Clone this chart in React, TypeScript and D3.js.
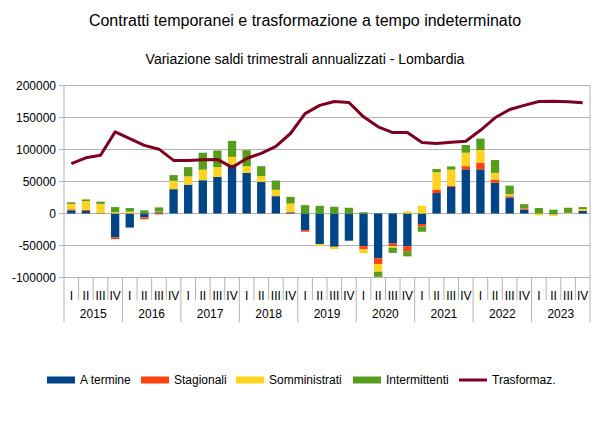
import React from 'react';
import * as d3 from 'd3';

const years = ['2015', '2016', '2017', '2018', '2019', '2020', '2021', '2022', '2023'];
const quarterNames = ['I', 'II', 'III', 'IV'];

const aTermine = [5000, 4000, 500, -37500, -22000, -6000, 2000, 38000, 45000, 52000, 57000, 76500, 63500, 49500, 27000, 1500, -26000, -48000, -52000, -42500, -51000, -70000, -47000, -51000, -16500, 32000, 41500, 69000, 69000, 48000, 25000, 6000, 500, -1500, 0, 4000];
const stagionali = [1500, 2000, 0, -2500, 0, -3000, -1500, 0, 0, 0, 0, 0, 0, 0, 1000, 1000, -2500, 0, 0, 0, -5000, -9000, -4000, -8000, -4000, 5500, 2000, 5000, 10500, 5000, 2000, 2000, 0, 0, 0, 0];
const somministrati = [8500, 13500, 14500, 2000, 3000, 0, 1000, 13000, 13000, 16500, 15500, 12000, 10500, 9000, 9000, 13000, 0, -3000, -3500, 0, -6000, -12000, -2500, 3500, 12000, 27000, 25000, 21000, 19500, 10500, 3000, 0, -3000, -2500, 1000, 3000];
const intermittenti = [2500, 2500, 3500, 8000, 5500, 5000, 6500, 9000, 14500, 26500, 26000, 25000, 25000, 15500, 14500, 10500, 13000, 12000, 10500, 9000, 2000, -8000, -8000, -8000, -8000, 5000, 5000, 12000, 18000, 20000, 13500, 6500, 8000, 6000, 8000, 3000];
const trasformaz = [78000, 87000, 91000, 127500, 117000, 106500, 100500, 83000, 83000, 84000, 84500, 72000, 86000, 94000, 105000, 125000, 156000, 169000, 175000, 173500, 151000, 135500, 126500, 126500, 111000, 109500, 111500, 113000, 130000, 149500, 162500, 169000, 175000, 175500, 174500, 173000];
const yTicks = [-100000, -50000, 0, 50000, 100000, 150000, 200000];

const seriesNames = ['A termine', 'Stagionali', 'Somministrati', 'Intermittenti'];
const lineName = 'Trasformaz.';
const colors = ['#004586', '#ff420e', '#ffd320', '#579d1c'];
const lineColor = '#7e0021';

const FONT = '"Liberation Sans", Arial, sans-serif';

export default function App() {
  const W = 610, H = 431;
  const left = 64, right = 590, top = 85.5, bottom = 277.5;

  const periods = years.flatMap((yr) => quarterNames.map((q) => `${yr}-${q}`));
  const x = d3.scaleBand<string>().domain(periods).range([left, right]).paddingInner(0.43).paddingOuter(0.215);
  const step = x.step();
  const y = d3.scaleLinear().domain([-100000, 200000]).range([bottom, top]);

  const rows = periods.map((p, i) => ({
    p,
    [seriesNames[0]]: aTermine[i],
    [seriesNames[1]]: stagionali[i],
    [seriesNames[2]]: somministrati[i],
    [seriesNames[3]]: intermittenti[i],
  }));
  const stacked = d3.stack<any>().keys(seriesNames).offset(d3.stackOffsetDiverging)(rows);

  const line = d3.line<number>()
    .x((_, i) => (x(periods[i]) as number) + x.bandwidth() / 2)
    .y((d) => y(d));

  const legendItems = [
    { name: seriesNames[0], color: colors[0], x: 47, type: 'rect' },
    { name: seriesNames[1], color: colors[1], x: 141, type: 'rect' },
    { name: seriesNames[2], color: colors[2], x: 236, type: 'rect' },
    { name: seriesNames[3], color: colors[3], x: 353, type: 'rect' },
    { name: lineName, color: lineColor, x: 459, type: 'line' },
  ];
  const legendY = 380;

  return (
    <svg width={W} height={H} style={{ position: 'absolute', left: 0, top: 0, background: '#fff' }} fontFamily={FONT}>
      <rect x={0} y={0} width={W} height={H} fill="#fff" />
      <text x={305} y={26} textAnchor="middle" fontSize={16} fill="#000">
        Contratti temporanei e trasformazione a tempo indeterminato
      </text>
      <text x={305} y={64} textAnchor="middle" fontSize={14} fill="#000">
        Variazione saldi trimestrali annualizzati - Lombardia
      </text>

      {/* grid */}
      {yTicks.map((t) => (
        <g key={t}>
          <line x1={left - 5} x2={right} y1={y(t)} y2={y(t)} stroke="#b3b3b3" strokeWidth={1} />
          <text x={56} y={y(t)} dy="0.35em" textAnchor="end" fontSize={12} fill="#000">{t}</text>
        </g>
      ))}
      <line x1={left} x2={left} y1={top} y2={bottom} stroke="#b3b3b3" />
      <line x1={right} x2={right} y1={top} y2={bottom} stroke="#b3b3b3" />

      {/* x axis ticks */}
      {periods.map((p, i) => {
        const x0 = left + step * i;
        const isYear = i % 4 === 0;
        return (
          <line key={'t' + p} x1={x0} x2={x0} y1={bottom} y2={isYear ? 322 : 300} stroke="#b3b3b3" />
        );
      })}
      <line x1={right} x2={right} y1={bottom} y2={322} stroke="#b3b3b3" />
      {periods.map((p, i) => (
        <text key={'q' + p} x={(x(p) as number) + x.bandwidth() / 2} y={300} textAnchor="middle" fontSize={12} fill="#000">
          {quarterNames[i % 4]}
        </text>
      ))}
      {years.map((yr, k) => (
        <text key={yr} x={left + step * (4 * k + 2)} y={318} textAnchor="middle" fontSize={12} fill="#000">{yr}</text>
      ))}

      {/* bars */}
      {stacked.map((s, si) => (
        <g key={s.key} fill={colors[si]}>
          {s.map((d, i) => {
            const y0 = y(d[0]), y1 = y(d[1]);
            const h = Math.abs(y0 - y1);
            if (h < 0.01) return null;
            return <rect key={i} x={x(periods[i])} width={x.bandwidth()} y={Math.min(y0, y1)} height={h} />;
          })}
        </g>
      ))}

      {/* line */}
      <path d={line(trasformaz) || ''} fill="none" stroke={lineColor} strokeWidth={3} strokeLinejoin="round" />

      {/* legend */}
      {legendItems.map((it) => (
        <g key={it.name}>
          {it.type === 'rect'
            ? <rect x={it.x} y={legendY - 3.5} width={28} height={7} fill={it.color} />
            : <line x1={it.x} x2={it.x + 28} y1={legendY} y2={legendY} stroke={it.color} strokeWidth={3} />}
          <text x={it.x + 33} y={legendY} dy="0.35em" fontSize={12} fill="#000">{it.name}</text>
        </g>
      ))}
    </svg>
  );
}
